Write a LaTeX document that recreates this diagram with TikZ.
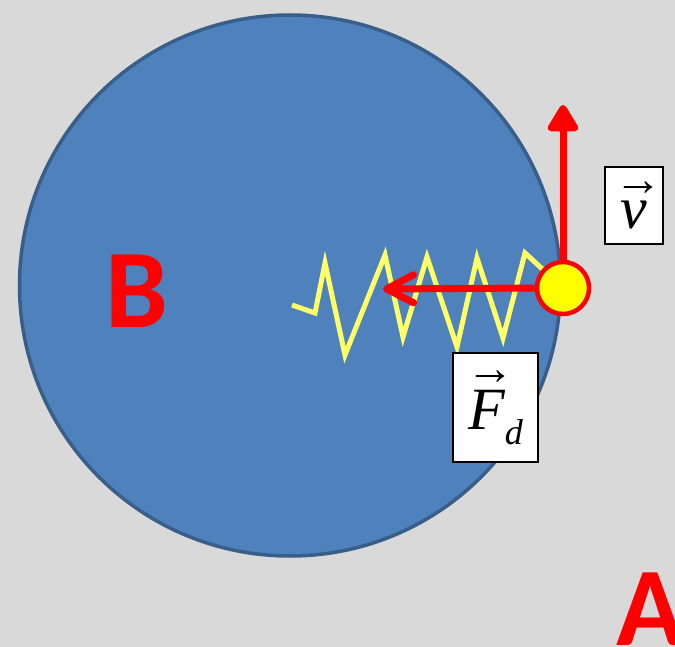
\documentclass[tikz,border=0pt]{standalone}
\usepackage{fontspec}
\setmainfont{Liberation Serif}
\newfontfamily\letterfont{Carlito}
\definecolor{bggrey}{RGB}{217,217,217}
\definecolor{discblue}{RGB}{79,129,189}
\definecolor{discedge}{RGB}{58,94,138}
\definecolor{springyellow}{RGB}{255,255,102}
\definecolor{ballyellow}{RGB}{255,255,0}
\definecolor{mkred}{RGB}{255,0,0}
\usetikzlibrary{arrows.meta}
%% letter with an arrow over it: #1 letter, #2 raise of the arrow
\newcommand{\vecsym}[2]{\setbox0\hbox{\itshape #1}\rlap{\hbox to \wd0{\hss\hskip 8pt\raisebox{#2}{\fontsize{48}{48}\selectfont\symbol{"2192}}\hss}}\box0}

\begin{document}
\begin{tikzpicture}[x=1pt, y=-1pt,
    labelbox/.style={draw=black, line width=1.5pt, fill=white, inner sep=0pt, align=center, font=\fontsize{60}{60}\selectfont},
    bigletter/.style={text=mkred, inner sep=0pt, anchor=base west, font=\letterfont\bfseries\fontsize{112}{112}\selectfont},
    redarrow/.style={mkred, line width=7pt}]
  \useasboundingbox (0,0) rectangle (675,647);
  \fill[bggrey] (0,0) rectangle (675,647);

  %% Disc B
  \node[draw=discedge, fill=discblue, line width=3.5pt, circle, minimum size=541pt, inner sep=0pt] (disc) at (290,285.5) {};
  \node[bigletter] (bname) at (105,327) {B};

  %% Spring from the centre to the ball
  \draw[springyellow, line width=5pt, line join=miter] (292,305) -- (315,313) -- (325,263) -- (345,355) -- (385,255) -- (403,337) -- (427,257) -- (457,347) -- (477,258) -- (503,338) -- (525,253) -- (563,288);

  %% Ball
  \node[draw=mkred, fill=ballyellow, line width=4.5pt, circle, minimum size=52pt, inner sep=0pt] (ball) at (563,288) {};

  %% Velocity and force
  \coordinate (vtip) at (563,105);
  \coordinate (ftip) at (383,289);
  \draw[redarrow, -{Triangle[length=30pt, width=34pt, round]}] (ball.north) -- (vtip);
  \draw[redarrow, -{Straight Barb[length=27pt, width=28pt, round]}] (ball.west) -- (ftip);

  %% Labels
  \node[labelbox, minimum width=58pt, minimum height=77pt] (vlabel) at (634,205.5) {\vecsym{v}{33pt}};
  \node[labelbox, minimum width=85pt, minimum height=109pt] (flabel) at (495.5,407.5) {\vecsym{F}{45pt}\raisebox{-15pt}{\fontsize{36}{36}\selectfont\itshape d}};

  %% Point A
  \node[bigletter] (aname) at (616,645) {A};
\end{tikzpicture}
\end{document}
